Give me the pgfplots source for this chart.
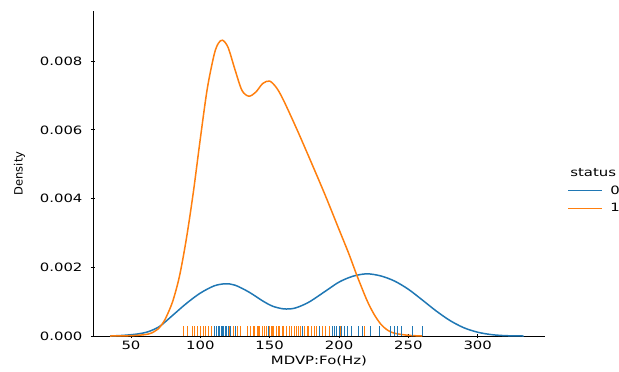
\documentclass[border=0pt]{standalone}
\usepackage{fontspec}
\setmainfont{DejaVu Sans}[FakeStretch=1.3]
\newfontfamily\plainfont{DejaVu Sans}
\usepackage{pgfplots}
\pgfplotsset{compat=1.18}
\usetikzlibrary{calc}
\definecolor{sbblue}{HTML}{1F77B4}
\definecolor{sborange}{HTML}{FF7F0E}
\newcommand{\lblfont}{\fontsize{11.5}{13}\selectfont}
\begin{document}
\begin{tikzpicture}
\begin{axis}[name=ax, scale only axis, width=452bp, height=325bp,
  xmin=22.6, xmax=348.5, ymin=0, ymax=0.00946,
  axis x line*=bottom, axis y line*=left,
  axis line style={-, line width=0.8bp, black},
  xtick={50,100,150,200,250,300},
  ytick={0,0.002,0.004,0.006,0.008},
  yticklabels={0.000,0.002,0.004,0.006,0.008},
  scaled y ticks=false,
  xtick pos=bottom, ytick pos=left,
  major tick length=4bp,
  tick style={black, line width=0.8bp},
  xtick style={yshift=-2bp}, ytick style={xshift=-2bp},
  /pgf/number format/assume math mode=true,
  ticklabel style={font=\lblfont, text=black},
  yticklabel style={xshift=-7bp},
  xticklabel style={yshift=-1bp},
  xlabel={MDVP:Fo(Hz)}, ylabel={Density},
  xlabel style={at={(axis description cs:0.5,0)}, anchor=north, inner sep=0pt, yshift=-19.4bp, font=\lblfont},
  ylabel style={at={(axis description cs:-0.150,0.5)}, anchor=south, inner sep=0pt, font=\plainfont\lblfont},
  legend style={at={(axis description cs:1.049,0.522)}, anchor=north west, draw=none, fill=none,
    font=\lblfont, inner sep=0pt, row sep=5bp, nodes={inner sep=1.5bp},
    /tikz/every odd column/.append style={column sep=6bp}},
  legend cell align=left,
  legend image code/.code={\draw[#1] (0bp,0bp) -- (34bp,0bp);},
  clip=false,
]
\addlegendimage{empty legend}
\addlegendentry{\hspace*{-40bp}status}

% KDE status 0
\addplot[sbblue, line width=1.5bp, smooth] coordinates {
(35,0.00000) (45,0.00002) (55,0.00006) (62,0.00012) (68,0.00022) (72,0.00032)
(80,0.00060) (90,0.00095) (100,0.00125) (110,0.00146) (118,0.00152) (125,0.00148)
(135,0.00128) (145,0.00102) (152,0.00087) (160,0.00079) (168,0.00081) (178,0.00098)
(190,0.00130) (200,0.00157) (210,0.00174) (220,0.00181) (230,0.00175) (240,0.00160)
(250,0.00136) (260,0.00105) (270,0.00073) (280,0.00045) (290,0.00024) (300,0.00011)
(310,0.00004) (320,0.00001) (333,0.00000)
};
\addlegendentry{0}

% KDE status 1
\addplot[sborange, line width=1.5bp, smooth] coordinates {
(35,0.00000) (50,0.00001) (60,0.00004) (65,0.00009) (70,0.00022) (72,0.00032)
(75,0.00052) (80,0.00100) (85,0.00175) (90,0.00285) (95,0.00420) (100,0.00575)
(105,0.00720) (110,0.00820) (113,0.00852) (116,0.00861) (120,0.00840) (125,0.00775)
(130,0.00715) (135,0.00698) (140,0.00710) (145,0.00735) (150,0.00742) (155,0.00722)
(160,0.00686) (170,0.00598) (180,0.00505) (190,0.00410) (200,0.00310) (207,0.00240)
(213,0.00175) (220,0.00105) (225,0.00065) (230,0.00035) (235,0.00017) (240,0.00008)
(250,0.00002) (260,0.00000)
};
\addlegendentry{1}

% rug status 1
\addplot[ycomb, sborange, line width=1bp, forget plot] coordinates {
(88,0.00028) (91,0.00028) (94,0.00028) (96,0.00028) (98,0.00028) (100,0.00028)
(102,0.00028) (104,0.00028) (106,0.00028) (108,0.00028) (110,0.00028) (113,0.00028)
(115,0.00028) (117,0.00028) (119,0.00028) (120,0.00028) (121,0.00028) (122,0.00028)
(124,0.00028) (125,0.00028) (127,0.00028) (129,0.00028) (134,0.00028) (136,0.00028)
(138,0.00028) (139,0.00028) (141,0.00028) (142,0.00028) (143,0.00028) (145,0.00028)
(146,0.00028) (148,0.00028) (149,0.00028) (150,0.00028) (151,0.00028) (152,0.00028)
(153,0.00028) (155,0.00028) (156,0.00028) (157,0.00028) (159,0.00028) (160,0.00028)
(162,0.00028) (164,0.00028) (166,0.00028) (168,0.00028) (169,0.00028) (171,0.00028)
(172,0.00028) (174,0.00028) (175,0.00028) (177,0.00028) (178,0.00028) (180,0.00028)
(182,0.00028) (184,0.00028) (186,0.00028) (188,0.00028) (190,0.00028) (193,0.00028)
(197,0.00028) (201,0.00028) (204,0.00028) (209,0.00028) (214,0.00028) (218,0.00028)
(223,0.00028)
};
% rug status 0
\addplot[ycomb, sbblue, line width=1bp, forget plot] coordinates {
(110,0.00028) (112,0.00028) (113,0.00028) (114,0.00028) (115,0.00028) (116,0.00028)
(117,0.00028) (118,0.00028) (119,0.00028) (120,0.00028) (122,0.00028) (125,0.00028)
(149,0.00028) (174,0.00028) (186,0.00028) (195,0.00028) (197,0.00028) (198,0.00028)
(200,0.00028) (202,0.00028) (204,0.00028) (206,0.00028) (209,0.00028) (214,0.00028)
(217,0.00028) (223,0.00028) (229,0.00028) (237,0.00028) (240,0.00028) (242,0.00028)
(245,0.00028) (253,0.00028) (260,0.00028)
};
\end{axis}
\pgfresetboundingbox
\path ($(ax.south west)+(-93bp,-35bp)$) rectangle ($(ax.north east)+(74bp,11bp)$);
\end{tikzpicture}
\end{document}
